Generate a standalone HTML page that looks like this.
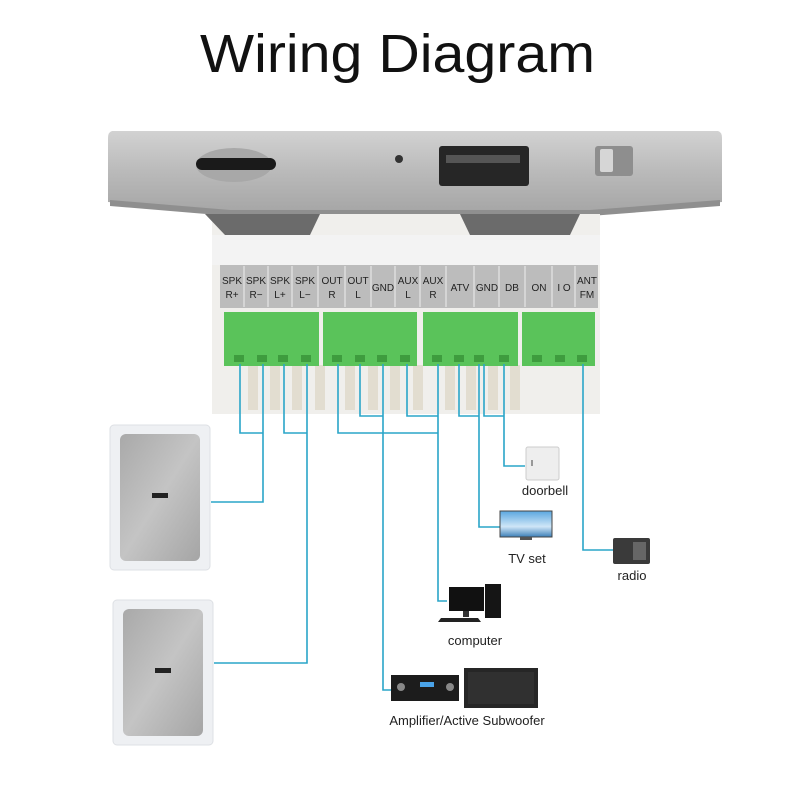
<!DOCTYPE html>
<html><head><meta charset="utf-8"><style>
html,body{margin:0;padding:0;background:#fff;width:800px;height:800px;overflow:hidden}
svg{display:block}
text{font-family:"Liberation Sans",sans-serif}
</style></head><body>
<svg width="800" height="800" viewBox="0 0 800 800">
<defs>
<linearGradient id="plate" x1="0" y1="0" x2="0" y2="1">
<stop offset="0" stop-color="#d2d2d2"/><stop offset="0.5" stop-color="#bababa"/><stop offset="1" stop-color="#a6a6a6"/></linearGradient>
<linearGradient id="grill" x1="0" y1="0" x2="1" y2="1">
<stop offset="0" stop-color="#a9a9a9"/><stop offset="0.5" stop-color="#c4c4c4"/><stop offset="1" stop-color="#a5a5a5"/></linearGradient>
<linearGradient id="tv" x1="0" y1="0" x2="0" y2="1">
<stop offset="0" stop-color="#5aa7e0"/><stop offset="0.6" stop-color="#cfe6f7"/><stop offset="1" stop-color="#3c7fb8"/></linearGradient>
</defs>
<text x="200" y="72" textLength="395" lengthAdjust="spacingAndGlyphs" font-size="54" fill="#111">Wiring Diagram</text>

<!-- silver plate -->
<path d="M112 131 L718 131 Q722 132 722 138 L722 202 L600 212 L230 212 L108 202 L108 138 Q108 132 112 131Z" fill="url(#plate)"/>
<path d="M110 200 L230 210 L590 210 L720 200 L720 206 L590 216 L230 216 L110 206Z" fill="#8f8f8f"/>
<!-- sd slot -->
<ellipse cx="234" cy="165" rx="38" ry="17" fill="#a8a8a8"/>
<rect x="196" y="158" width="80" height="12" rx="6" fill="#1a1a1a"/>
<circle cx="399" cy="159" r="4" fill="#333"/>
<!-- usb -->
<rect x="439" y="146" width="90" height="40" rx="3" fill="#262626"/>
<rect x="446" y="155" width="74" height="8" fill="#555"/>
<!-- switch -->
<rect x="595" y="146" width="38" height="30" rx="3" fill="#8e8e8e"/>
<rect x="600" y="149" width="13" height="23" rx="2" fill="#d6d6d6"/>
<!-- white body -->
<rect x="212" y="214" width="388" height="200" fill="#f0efec"/>
<path d="M205 214 L320 214 L310 235 L225 235Z" fill="#6b6b6b"/>
<path d="M460 214 L580 214 L570 235 L470 235Z" fill="#6b6b6b"/>
<rect x="212" y="235" width="388" height="30" fill="#f3f3f3"/>
<!-- label strip -->
<rect x="220" y="265" width="378" height="43" fill="#bcbcbc"/>
<g font-size="10" fill="#222" text-anchor="middle">
<g stroke="#eee" stroke-width="1"><line x1="244" y1="266" x2="244" y2="307"/><line x1="268" y1="266" x2="268" y2="307"/><line x1="292" y1="266" x2="292" y2="307"/><line x1="318" y1="266" x2="318" y2="307"/><line x1="345" y1="266" x2="345" y2="307"/><line x1="371" y1="266" x2="371" y2="307"/><line x1="395" y1="266" x2="395" y2="307"/><line x1="420" y1="266" x2="420" y2="307"/><line x1="446" y1="266" x2="446" y2="307"/><line x1="474" y1="266" x2="474" y2="307"/><line x1="499" y1="266" x2="499" y2="307"/><line x1="525" y1="266" x2="525" y2="307"/><line x1="552" y1="266" x2="552" y2="307"/><line x1="575" y1="266" x2="575" y2="307"/></g>
<text x="232" y="284">SPK</text><text x="232" y="298">R+</text>
<text x="256" y="284">SPK</text><text x="256" y="298">R−</text>
<text x="280" y="284">SPK</text><text x="280" y="298">L+</text>
<text x="305" y="284">SPK</text><text x="305" y="298">L−</text>
<text x="332" y="284">OUT</text><text x="332" y="298">R</text>
<text x="358" y="284">OUT</text><text x="358" y="298">L</text>
<text x="383" y="291">GND</text>
<text x="408" y="284">AUX</text><text x="408" y="298">L</text>
<text x="433" y="284">AUX</text><text x="433" y="298">R</text>
<text x="460" y="291">ATV</text>
<text x="487" y="291">GND</text>
<text x="512" y="291">DB</text>
<text x="539" y="291">ON</text>
<text x="564" y="291">I O</text>
<text x="587" y="284">ANT</text><text x="587" y="298">FM</text>
</g>
<!-- white fins -->
<g fill="#e2ddd0"><rect x="248" y="365" width="10" height="45"/><rect x="270" y="365" width="10" height="45"/><rect x="292" y="365" width="10" height="45"/><rect x="315" y="365" width="10" height="45"/><rect x="345" y="365" width="10" height="45"/><rect x="368" y="365" width="10" height="45"/><rect x="390" y="365" width="10" height="45"/><rect x="413" y="365" width="10" height="45"/><rect x="445" y="365" width="10" height="45"/><rect x="466" y="365" width="10" height="45"/><rect x="488" y="365" width="10" height="45"/><rect x="510" y="365" width="10" height="45"/></g>
<!-- green blocks -->
<g fill="#5ac35a">
<rect x="224" y="312" width="95" height="54"/><rect x="323" y="312" width="94" height="54"/><rect x="423" y="312" width="95" height="54"/><rect x="522" y="312" width="73" height="54"/></g>
<g fill="#3e9c3e">
<rect x="234" y="355" width="10" height="7"/><rect x="257" y="355" width="10" height="7"/><rect x="278" y="355" width="10" height="7"/><rect x="301" y="355" width="10" height="7"/><rect x="332" y="355" width="10" height="7"/><rect x="355" y="355" width="10" height="7"/><rect x="377" y="355" width="10" height="7"/><rect x="400" y="355" width="10" height="7"/><rect x="432" y="355" width="10" height="7"/><rect x="454" y="355" width="10" height="7"/><rect x="474" y="355" width="10" height="7"/><rect x="499" y="355" width="10" height="7"/><rect x="532" y="355" width="10" height="7"/><rect x="555" y="355" width="10" height="7"/><rect x="577" y="355" width="10" height="7"/></g>

<!-- wires -->
<g fill="none" stroke="#2aa5c8" stroke-width="1.6">
<polyline points="240,364 240,433 263,433"/>
<polyline points="263,364 263,502 211,502"/>
<polyline points="284,364 284,433 307,433"/>
<polyline points="307,364 307,663 214,663"/>
<polyline points="338,364 338,433 438,433"/>
<polyline points="360,364 360,416 383,416"/>
<polyline points="383,364 383,690 393,690"/>
<polyline points="407,364 407,416 438,416"/>
<polyline points="438,364 438,601 447,601"/>
<polyline points="459,364 459,416 479,416"/>
<polyline points="479,364 479,527 500,527"/>
<polyline points="484,364 484,416 504,416"/>
<polyline points="504,364 504,466 525,466"/>
<polyline points="583,364 583,550 614,550"/>
</g>

<!-- speakers -->
<rect x="110" y="425" width="100" height="145" rx="4" fill="#eef0f3" stroke="#dde0e4"/>
<rect x="120" y="434" width="80" height="127" rx="6" fill="url(#grill)"/>
<rect x="152" y="493" width="16" height="5" fill="#222"/>
<rect x="113" y="600" width="100" height="145" rx="4" fill="#eef0f3" stroke="#dde0e4"/>
<rect x="123" y="609" width="80" height="127" rx="6" fill="url(#grill)"/>
<rect x="155" y="668" width="16" height="5" fill="#222"/>

<!-- doorbell -->
<rect x="526" y="447" width="33" height="33" rx="2" fill="#eeeeee" stroke="#ccc"/>
<rect x="531" y="460" width="2" height="6" fill="#999"/>
<text x="545" y="495" text-anchor="middle" font-size="13" fill="#222">doorbell</text>
<!-- tv -->
<rect x="500" y="511" width="52" height="26" fill="url(#tv)" stroke="#444"/>
<rect x="520" y="537" width="12" height="3" fill="#555"/>
<text x="527" y="563" text-anchor="middle" font-size="13" fill="#222">TV set</text>
<!-- radio -->
<rect x="613" y="538" width="37" height="26" rx="2" fill="#3a3a3a"/>
<rect x="633" y="542" width="13" height="18" fill="#666"/>
<text x="632" y="580" text-anchor="middle" font-size="13" fill="#222">radio</text>
<!-- computer -->
<rect x="449" y="587" width="35" height="24" fill="#111"/>
<rect x="463" y="611" width="6" height="6" fill="#333"/>
<rect x="485" y="584" width="16" height="34" fill="#151515"/>
<polygon points="441,618 478,618 481,622 438,622" fill="#222"/>
<text x="475" y="645" text-anchor="middle" font-size="13" fill="#222">computer</text>
<!-- amplifier & sub -->
<rect x="391" y="675" width="68" height="26" fill="#1c1c1c"/>
<rect x="420" y="682" width="14" height="5" fill="#4aa3e8"/>
<circle cx="401" cy="687" r="4" fill="#888"/><circle cx="450" cy="687" r="4" fill="#888"/>
<rect x="464" y="668" width="74" height="40" fill="#262626"/>
<rect x="468" y="672" width="66" height="32" fill="#303030"/>
<text x="467" y="725" text-anchor="middle" font-size="13" fill="#222">Amplifier/Active Subwoofer</text>
</svg>
</body></html>
